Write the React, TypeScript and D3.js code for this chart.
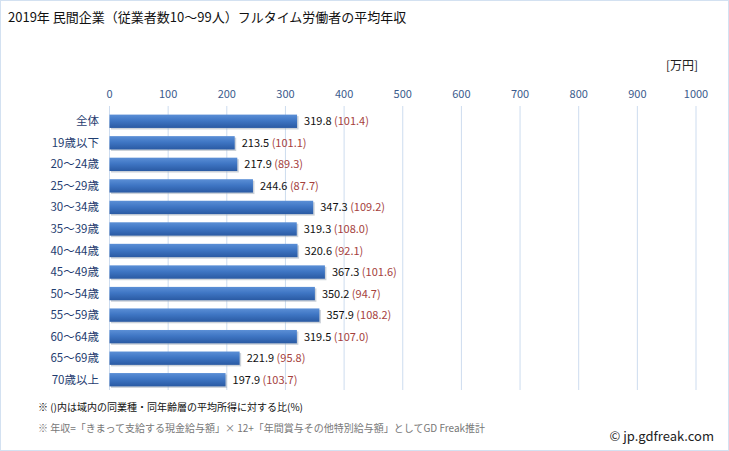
import React from "react";
import * as d3 from "d3";

const categories = ["全体", "19歳以下", "20～24歳", "25～29歳", "30～34歳", "35～39歳", "40～44歳", "45～49歳", "50～54歳", "55～59歳", "60～64歳", "65～69歳", "70歳以上"];
const values = [319.8, 213.5, 217.9, 244.6, 347.3, 319.3, 320.6, 367.3, 350.2, 357.9, 319.5, 221.9, 197.9];
const ratios = ["101.4", "101.1", "89.3", "87.7", "109.2", "108.0", "92.1", "101.6", "94.7", "108.2", "107.0", "95.8", "103.7"];
const ticks = [0, 100, 200, 300, 400, 500, 600, 700, 800, 900, 1000];

const W = 729;
const H = 451;
const font = "'Noto Sans CJK JP', 'Noto Sans', sans-serif";

export default function App() {
  const x = d3.scaleLinear().domain([0, 1000]).range([109.5, 696]);
  const y = d3.scaleBand<string>().domain(categories).range([110.5, 390.5]).paddingInner(0.38).paddingOuter(0.19);
  const bh = y.bandwidth();
  return (
    <svg width={W} height={H} style={{ position: "absolute", left: 0, top: 0, background: "#fff" }} fontFamily={font}>
      <defs>
        <linearGradient id="barg" x1="0" y1="0" x2="0" y2="1">
          <stop offset="0" stopColor="#5b8fd6" />
          <stop offset="0.45" stopColor="#3f76c4" />
          <stop offset="1" stopColor="#2a5aa3" />
        </linearGradient>
      </defs>
      <rect x={0.5} y={0.5} width={W - 1} height={H - 1} fill="none" stroke="#d3e1f1" />
      <text x={8} y={22} fontSize={13} fill="#111">2019年 民間企業（従業者数10～99人）フルタイム労働者の平均年収</text>
      <text x={698} y={70} fontSize={12} fill="#222" textAnchor="end">[万円]</text>
      {ticks.map((t) => (
        <g key={t}>
          <line x1={x(t)} x2={x(t)} y1={106} y2={390} stroke="#cddcef" strokeWidth={1} />
          <text x={x(t)} y={98} fontSize={11} fill="#3b5b8c" textAnchor="middle">{t}</text>
        </g>
      ))}
      {categories.map((c, i) => {
        const yy = y(c)!;
        const xe = x(values[i]);
        return (
          <g key={c}>
            <rect x={x(0) + 1.5} y={yy + 1.5} width={xe - x(0)} height={bh} fill="#9aa6b4" opacity={0.5} />
            <rect x={x(0)} y={yy} width={xe - x(0)} height={bh} fill="url(#barg)" />
            <text x={99} y={yy + bh / 2 + 4} fontSize={11.5} fill="#1f3d70" textAnchor="end">{c}</text>
            <text x={xe + 7} y={yy + bh / 2 + 4} fontSize={11} fill="#111">
              {values[i].toFixed(1)}
              <tspan fill="#a5413d">{` (${ratios[i]})`}</tspan>
            </text>
          </g>
        );
      })}
      <text x={38} y={411} fontSize={10} fill="#111">※ ()内は域内の同業種・同年齢層の平均所得に対する比(%)</text>
      <text x={38} y={432} fontSize={10} fill="#777">※ 年収=「きまって支給する現金給与額」× 12+「年間賞与その他特別給与額」としてGD Freak推計</text>
      <text x={714} y={441} fontSize={13} fill="#222" textAnchor="end">© jp.gdfreak.com</text>
    </svg>
  );
}
